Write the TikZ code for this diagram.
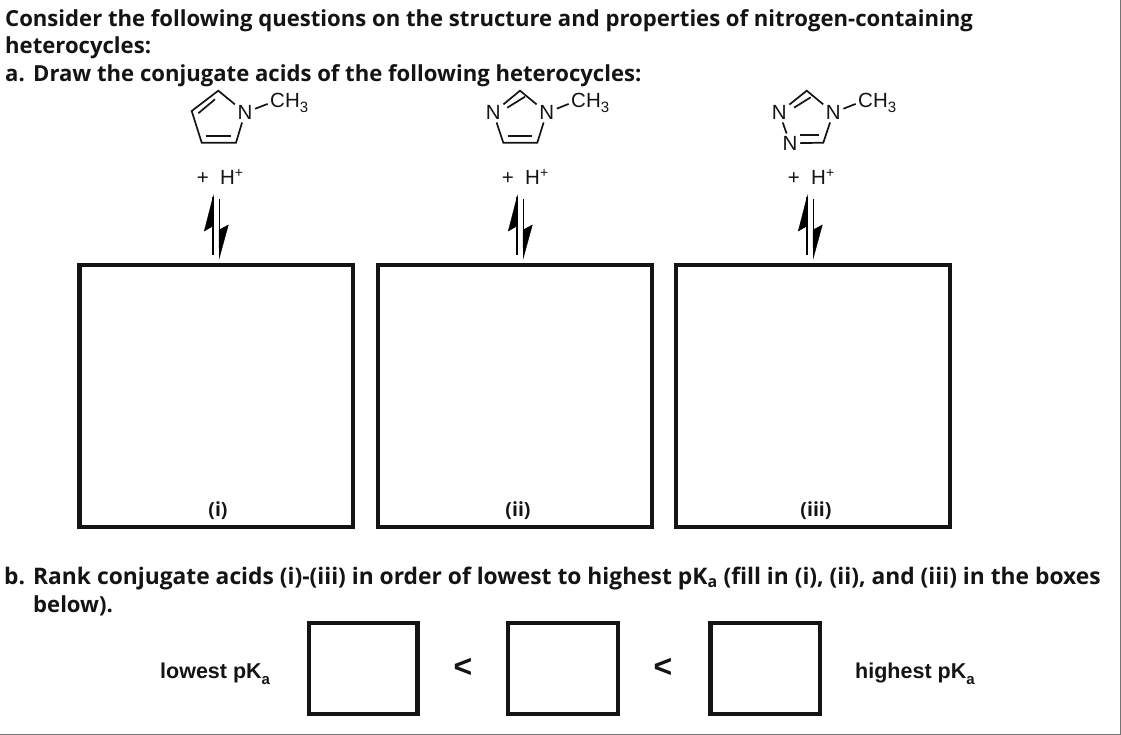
\documentclass[tikz,border=0pt]{standalone}
\usepackage{fontspec}
\setmainfont{Open Sans}
\setsansfont{Liberation Sans}
\usepackage{xcolor}
\definecolor{FrameGray}{rgb}{0.45, 0.45, 0.45}
\definecolor{InkBlack}{rgb}{0.08, 0.08, 0.08}
\usetikzlibrary{positioning}
\newcommand{\lowered}[1]{\raisebox{-0.28em}{\fontsize{15}{17}\selectfont #1}}
\newcommand{\raised}[1]{\raisebox{0.32em}{\fontsize{14}{16}\selectfont #1}}
\tikzset{
	question/.style={anchor=base west, inner sep=0pt, font=\fontsize{22.1}{24}\selectfont\bfseries, text=InkBlack},
	longquestion/.style={question, font=\fontsize{22.8}{24}\selectfont\bfseries},
	atom/.style={inner sep=2.5pt, font=\sffamily\fontsize{20.5}{24}\selectfont, text=InkBlack},
	proton/.style={inner sep=0pt, font=\sffamily\fontsize{20.5}{24}\selectfont, text=InkBlack},
	bond/.style={line width=1.7pt, InkBlack},
	answerbox/.style={line width=4.3pt, InkBlack},
	numeral/.style={inner sep=0pt, font=\fontsize{19.5}{24}\selectfont\bfseries, text=InkBlack},
	tag/.style={inner sep=0pt, font=\sffamily\bfseries\fontsize{21.5}{24}\selectfont, text=InkBlack},
	lessthan/.style={inner sep=0pt, font=\sffamily\bfseries\fontsize{32}{36}\selectfont, text=InkBlack},
	harpoon/.style={fill=black, draw=black, line width=0.4pt, line join=miter},
	stem/.style={line width=1.6pt, black}
}
\begin{document}
\begin{tikzpicture}[x=1pt, y=-1pt]
	\useasboundingbox (0,0) rectangle (1121,735);
	\draw[FrameGray, line width=1pt] (1120.4,0) -- (1120.4,734.2) -- (0,734.2);

	\node[question] (q1) at (5,27) {Consider the following questions on the structure and properties of nitrogen-containing};
	\node[question] (q2) at (5,54) {heterocycles:};
	\node[question] (qa) at (5,81.5) {\makebox[28pt][l]{a.}Draw the conjugate acids of the following heterocycles:};
	\node[longquestion] (qb) at (4,584) {\makebox[29pt][l]{b.}Rank conjugate acids (i)-(iii) in order of lowest to highest pK\textsubscript{a} (fill in (i), (ii), and (iii) in the boxes};
	\node[question] (qc) at (33,612) {below).};

	% first ring
	\coordinate (a1) at (218.3,90.7);
	\coordinate (a2) at (191.7,111);
	\coordinate (a3) at (201.7,142.7);
	\coordinate (a4) at (236,142.7);
	\node[atom] (aN) at (245,112.7) {N};
	\node[atom, inner sep=0pt, anchor=west] (aMe) at (270,103) {CH\lowered{3}};
	\draw[bond] (aN) -- (a1) -- (a2) -- (a3) -- (a4) -- (aN);
	\draw[bond] (198.3,113.3) -- (215,99.3);
	\draw[bond] (206,136) -- (230.7,136);
	\draw[bond, shorten >=2.5pt] (aN) -- (aMe.west);

	% second ring
	\coordinate (b1) at (520,90.7);
	\coordinate (b3) at (503.3,142.7);
	\coordinate (b4) at (537.3,142.7);
	\node[atom] (bN1) at (493.3,112.7) {N};
	\node[atom] (bN2) at (546.7,112.7) {N};
	\node[atom, inner sep=0pt, anchor=west] (bMe) at (571,103) {CH\lowered{3}};
	\draw[bond] (bN2) -- (b1) -- (bN1) -- (b3) -- (b4) -- (bN2);
	\draw[bond] (507.3,107.7) -- (525,96.7);
	\draw[bond] (508.3,136) -- (531.7,136);
	\draw[bond, shorten >=2.5pt] (bN2) -- (bMe.west);

	% third ring
	\coordinate (c1) at (806.7,90.7);
	\coordinate (c4) at (823.3,142.7);
	\node[atom] (cN1) at (779.3,112.7) {N};
	\node[atom] (cN2) at (833.3,112.7) {N};
	\node[atom] (cN3) at (790,143.3) {N};
	\node[atom, inner sep=0pt, anchor=west] (cMe) at (858,103) {CH\lowered{3}};
	\draw[bond] (cN2) -- (c1) -- (cN1) -- (cN3) -- (c4) -- (cN2);
	\draw[bond] (794,107.7) -- (810.7,97.3);
	\draw[bond] (800,135) -- (819.3,135);
	\draw[bond, shorten >=2.5pt] (cN2) -- (cMe.west);

	\node[proton] (pa) at (220,177) {+\ \ H\raised{+}};
	\node[proton] (pb) at (525,177) {+\ \ H\raised{+}};
	\node[proton] (pc) at (811,177) {+\ \ H\raised{+}};

	\foreach \dx in {0,304,594}{
		\begin{scope}[xshift=\dx pt]
			\draw[stem] (212.7,197) -- (212.7,255);
			\draw[stem] (219.3,199) -- (219.3,257);
			\fill[harpoon] (213.3,196) -- (204.3,231) -- (213,226) -- cycle;
			\fill[harpoon] (219.3,258) -- (228.3,225) -- (219,230) -- cycle;
		\end{scope}
	}

	\draw[answerbox] (79.5,265) rectangle (353.2,527.2);
	\draw[answerbox] (378,265) rectangle (651.7,527.2);
	\draw[answerbox] (675.8,265) rectangle (949.8,527.2);
	\node[numeral] (ri) at (218,511) {(i)};
	\node[numeral] (rii) at (518,511) {(ii)};
	\node[numeral] (riii) at (816,511) {(iii)};

	\draw[answerbox] (308.7,622.7) rectangle (417.5,713.8);
	\draw[answerbox] (508,622.7) rectangle (618,713.8);
	\draw[answerbox] (710.5,622.7) rectangle (820,713.8);
	\node[tag, anchor=west] (low) at (160,673.5) {lowest pK\lowered{a}};
	\node[tag, anchor=west] (high) at (855,673.5) {highest pK\lowered{a}};
	\node[lessthan] (lt1) at (463,668) {<};
	\node[lessthan] (lt2) at (663,668) {<};
\end{tikzpicture}
\end{document}
